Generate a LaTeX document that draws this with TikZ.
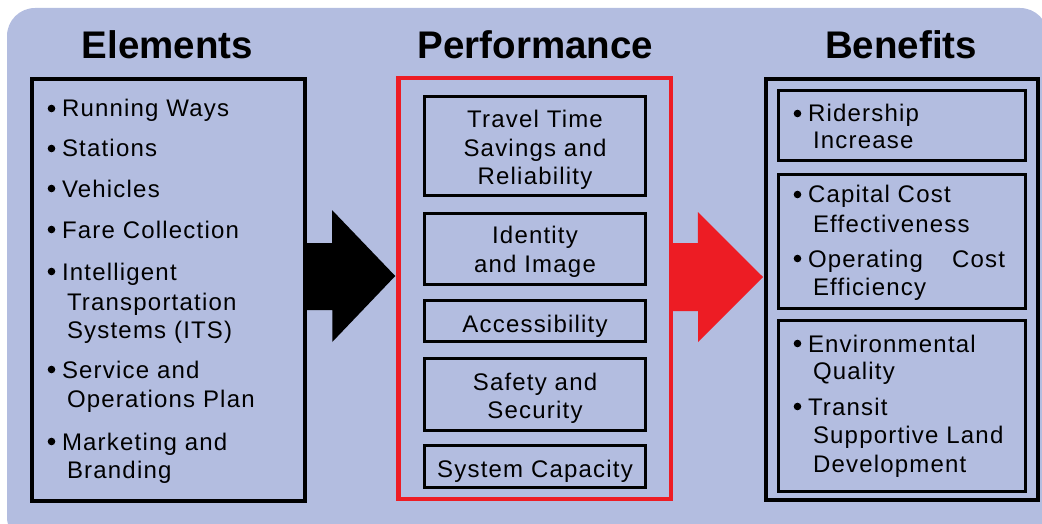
\documentclass[tikz,border=0pt]{standalone}
\usepackage{fontspec}
\setmainfont{Liberation Sans}
\usetikzlibrary{calc}
\definecolor{bgc}{RGB}{179,189,224}
\definecolor{redc}{RGB}{237,28,36}
\newcommand{\bodyfont}{\fontsize{24}{29}\selectfont\addfontfeature{LetterSpace=5}}
\newcommand{\titlefont}{\fontsize{38.5}{40}\selectfont\bfseries}
\begin{document}
\begin{tikzpicture}[x=1pt,y=-1pt,
  every node/.style={inner sep=0pt, outer sep=0pt},
  titletxt/.style={font=\titlefont, anchor=base},
  txt/.style={font=\bodyfont, anchor=base west},
  ctxt/.style={font=\bodyfont, anchor=base},
  bigbox/.style={draw, line width=4pt, minimum width=273pt, minimum height=422pt},
  pbox/.style={draw, line width=3.3pt, minimum width=221pt},
  bbox/.style={draw, line width=3.3pt, minimum width=247pt},
  bul/.style={fill=black}]
\useasboundingbox (0,0) rectangle (1042,524);
\begin{scope}
  \clip (0,0) rectangle (1042,524);
  \fill[bgc, rounded corners=28pt] (7,8) rectangle (1048,545);
\end{scope}

% titles
\node[titletxt] (tE) at (167.5,59) {Elements};
\node[titletxt] (tP) at (535.5,59) {Performance};
\node[titletxt] (tB) at (901,59) {Benefits};

% main boxes
\node[bigbox] (elem) at (168.5,290) {};
\node[draw=redc, line width=4.5pt, minimum width=272.5pt, minimum height=420.5pt] (perf) at (534.5,288.5) {};
\node[draw, line width=4pt, minimum width=272pt, minimum height=421pt] (ben) at (902,289.5) {};

% arrows
\coordinate (ay1) at (0,276);
\fill[black] ($(elem.east |- ay1)+(0,-33)$) -- ++(27,0) -- ++(0,-33)
  -- ($(perf.west |- ay1)+(-3,0)$) -- ++(-63,66) -- ++(0,-32)
  -- ($(elem.east |- ay1)+(0,34)$) -- cycle;
\coordinate (ay2) at (0,277);
\fill[redc] ($(perf.east |- ay2)+(0,-34)$) -- ++(27,0) -- ++(0,-31)
  -- ($(ben.west |- ay2)+(-3,0)$) -- ++(-65,65) -- ++(0,-31)
  -- ($(perf.east |- ay2)+(0,34)$) -- cycle;

% elements list
\foreach \n/\x/\y/\t in {e1/62/117/{Running Ways}, e2/62/157/{Stations},
  e3/62/197/{Vehicles}, e4/62/238/{Fare Collection}, e5/62/280/{Intelligent},
  e6/67/310/{Transportation}, e7/67/338/{Systems (ITS)}, e8/62/378/{Service and},
  e9/67/407/{Operations Plan}, e10/62/450/{Marketing and}, e11/67/478/{Branding}}
  \node[txt] (\n) at (\x,\y) {\t};
\foreach \y in {117,157,197,238,280,378,450}
  \fill[bul] (51.5,\y-8.5) circle (3.8pt);

% performance boxes
\node[pbox, minimum height=99pt] (p1) at (535,146) {};
\node[pbox, minimum height=71pt] (p2) at (535,249) {};
\node[pbox, minimum height=41pt] (p3) at (535,321) {};
\node[pbox, minimum height=72pt] (p4) at (535,394.5) {};
\node[pbox, minimum height=42pt] (p5) at (535,466.5) {};
\foreach \n/\y/\t in {q1/128/{Travel Time}, q2/157/{Savings and}, q3/185/{Reliability},
  q4/243/{Identity}, q5/272/{and Image}, q6/332/{Accessibility},
  q7/390/{Safety and}, q8/418/{Security}, q9/477/{System Capacity}}
  \node[ctxt] (\n) at (535,\y) {\t};

% benefits boxes
\node[bbox, minimum height=70pt] (b1) at (902,125.5) {};
\node[bbox, minimum height=134pt] (b2) at (902,241.5) {};
\node[bbox, minimum height=171pt] (b3) at (902,406) {};
\foreach \n/\x/\y/\t in {r1/808/122/{Ridership}, r2/813/149/{Increase},
  r3/808/203/{Capital Cost}, r4/813/232/{Effectiveness},
  r6/813/295/{Efficiency}, r7/808/352/{Environmental}, r8/813/379/{Quality},
  r9/808/415/{Transit}, r10/813/443/{Supportive Land}, r11/813/472/{Development}}
  \node[txt] (\n) at (\x,\y) {\t};
\node[txt] (r5) at (808,267) {\makebox[197pt][l]{Operating\hfill Cost}};
\foreach \y in {122,203,267,352,415}
  \fill[bul] (797.5,\y-8.5) circle (3.8pt);
\end{tikzpicture}
\end{document}
